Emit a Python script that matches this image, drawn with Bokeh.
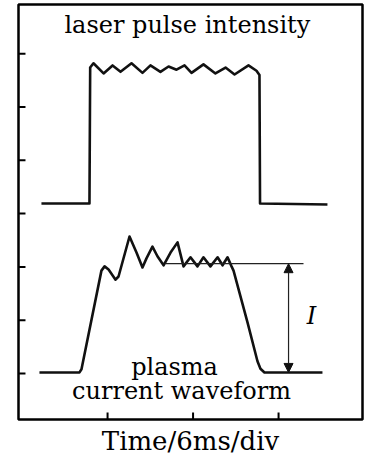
from bokeh.plotting import figure
from bokeh.models import Range1d, Arrow, NormalHead, Label, LinearAxis, FixedTicker
from bokeh.embed import file_html
from bokeh.resources import INLINE

# ---- data (time in ms, vertical in divisions) ----
laser_t = [1.36, 4.73, 4.78, 5.01, 5.72, 6.35, 6.91, 7.68, 8.45, 9.01, 9.71, 10.28,
           10.84, 11.40, 11.89, 12.73, 13.57, 14.28, 14.91, 15.89, 16.45, 16.66, 16.70, 21.43]
laser_y = [3.19, 3.19, 5.74, 5.82, 5.63, 5.78, 5.66, 5.82, 5.64, 5.78, 5.66, 5.76,
           5.70, 5.78, 5.64, 5.80, 5.63, 5.74, 5.61, 5.78, 5.68, 5.60, 3.19, 3.17]

plasma_t = [1.22, 4.03, 4.17, 5.57, 5.79, 6.07, 6.56, 6.77, 7.54, 8.03, 8.45, 8.73,
            9.15, 9.50, 9.93, 10.42, 10.91, 11.33, 11.82, 12.31, 12.73, 13.22, 13.72,
            14.07, 14.42, 14.70, 14.84, 15.82, 16.52, 16.73, 17.01, 21.08]
plasma_y = [0.02, 0.02, 0.08, 1.93, 2.01, 1.95, 1.76, 1.82, 2.57, 2.27, 1.99, 2.16,
            2.38, 2.20, 2.03, 2.27, 2.46, 2.01, 2.18, 2.01, 2.18, 2.01, 2.18,
            2.03, 2.18, 2.01, 1.93, 0.96, 0.23, 0.09, 0.02, 0.02]

plateau_level = 2.06
plateau_start = 10.07
plateau_end = 19.75
baseline_level = 0.02
arrow_t = 18.7

x_lo, x_hi = -0.25, 23.89
y_lo, y_hi = -0.863, 6.923
y_ticks = [0, 1, 2, 3, 4, 5, 6]
x_ticks = [6, 12, 18]
tick_len_x = 0.49   # ~7 px inward, in time units
tick_len_y = 0.13   # ~7 px inward, in division units

title_text = "laser pulse intensity"
xlabel_text = "Time/6ms/div"
plasma_text_1 = "plasma"
plasma_text_2 = "current waveform"
current_symbol = "I"

SERIF = "DejaVu Serif"

p = figure(width=366, height=458, output_backend="svg", toolbar_location=None,
           x_range=Range1d(x_lo, x_hi), y_range=Range1d(y_lo, y_hi),
           x_axis_location=None, y_axis_location=None,
           min_border_left=18, min_border_right=4, min_border_top=4, min_border_bottom=39)

p.xgrid.visible = False
p.ygrid.visible = False
p.background_fill_color = "white"
p.border_fill_color = "white"
p.outline_line_color = "black"
p.outline_line_width = 2.5

# bottom axis carrying only the axis title (tick marks drawn below as inward segments)
xaxis = LinearAxis(ticker=FixedTicker(ticks=[]), axis_label=xlabel_text,
                   axis_line_color=None, major_tick_line_color=None,
                   minor_tick_line_color=None, major_tick_out=0, major_tick_in=0,
                   major_label_standoff=0, axis_label_standoff=6,
                   axis_label_text_font=SERIF, axis_label_text_font_style="normal",
                   axis_label_text_font_size="26px", axis_label_text_color="black")
p.add_layout(xaxis, "below")

# inward tick marks (left and bottom)
p.segment(x0=[x_lo] * len(y_ticks), y0=y_ticks,
          x1=[x_lo + tick_len_x] * len(y_ticks), y1=y_ticks,
          line_color="black", line_width=2)
p.segment(x0=x_ticks, y0=[y_lo] * len(x_ticks),
          x1=x_ticks, y1=[y_lo + tick_len_y] * len(x_ticks),
          line_color="black", line_width=2)

p.line(laser_t, laser_y, line_color="#111111", line_width=2.6, line_join="round")
p.line(plasma_t, plasma_y, line_color="#111111", line_width=2.6, line_join="round")

p.line([plateau_start, plateau_end], [plateau_level, plateau_level],
       line_color="#222222", line_width=1.3)

p.add_layout(Arrow(x_start=arrow_t, y_start=plateau_level, x_end=arrow_t, y_end=baseline_level,
                   line_width=1.2, line_color="#222222",
                   start=NormalHead(size=9, fill_color="#111111", line_color="#111111"),
                   end=NormalHead(size=9, fill_color="#111111", line_color="#111111")))

p.add_layout(Label(x=11.6, y=6.54, text=title_text, text_align="center",
                   text_baseline="middle", text_font=SERIF, text_font_size="24px",
                   text_color="black"))
p.add_layout(Label(x=10.7, y=0.12, text=plasma_text_1, text_align="center",
                   text_baseline="middle", text_font=SERIF, text_font_size="24px",
                   text_color="black"))
p.add_layout(Label(x=11.19, y=-0.33, text=plasma_text_2, text_align="center",
                   text_baseline="middle", text_font=SERIF, text_font_size="24px",
                   text_color="black"))
p.add_layout(Label(x=20.31, y=1.07, text=current_symbol, text_align="center",
                   text_baseline="middle", text_font=SERIF, text_font_size="24px",
                   text_font_style="italic", text_color="black"))

open("out.html", "w").write(file_html(p, INLINE))
